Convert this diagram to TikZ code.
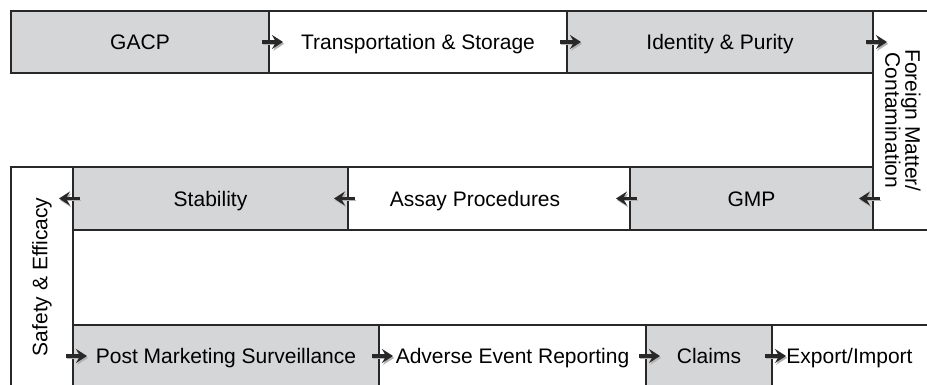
\documentclass[tikz,border=0pt]{standalone}
\usepackage{fontspec}
\setmainfont{Liberation Sans}
\usetikzlibrary{calc,arrows.meta}
\definecolor{boxgray}{RGB}{213,214,216}
\definecolor{edge}{RGB}{40,40,40}
\begin{document}
\begin{tikzpicture}[x=1pt,y=-1pt,
  plain/.style={inner sep=0pt,outer sep=0pt,align=center,font=\fontsize{21}{23}\selectfont},
  cell/.style={plain,draw=edge,line width=2pt,text height=15pt,text depth=0pt},
  shaded/.style={cell,fill=boxgray},
  bare/.style={plain,text height=15pt,text depth=0pt},
  rule/.style={draw=edge,line width=2pt},
  flow/.style={-{Stealth[length=11pt,width=14pt,inset=4pt]},line width=3.2pt,draw=edge,
    preaction={draw=black!30,transform canvas={shift={(1.2pt,-1.8pt)}}}}
]
\clip (0,0) rectangle (927,384);
\fill[white] (0,0) rectangle (927,384);
% top row
\node[shaded,minimum width=258pt,minimum height=62pt] (gacp) at (140,42) {GACP};
\node[cell,minimum width=298pt,minimum height=62pt] (trans) at (418,42) {Transportation \& Storage};
\node[shaded,minimum width=306pt,minimum height=62pt] (ident) at (720,42) {Identity \& Purity};
\node[plain,minimum width=54pt,minimum height=219pt] (foreign) at (900,120.5)
  {\rotatebox{-90}{\begin{tabular}{@{}c@{}}Foreign Matter/\\[-3pt]Contamination\end{tabular}}};
\draw[rule] ($(foreign.north east)+(10,0)$) -- (foreign.north west) -- (foreign.south west) -- ($(foreign.south east)+(10,0)$);
% middle row
\node[plain,draw=edge,line width=2pt,minimum width=62pt,minimum height=220pt] (safety) at (42,277)
  {\rotatebox{90}{Safety \& Efficacy}};
\node[shaded,minimum width=275pt,minimum height=63pt] (stab) at (210.5,198.5) {Stability};
\node[cell,minimum width=282pt,minimum height=63pt] (assay) at (489,198.5) {Assay Procedures\hspace*{28pt}};
\node[shaded,minimum width=243pt,minimum height=63pt] (gmp) at (751.5,198.5) {GMP};
% bottom row
\node[shaded,minimum width=306pt,minimum height=62pt] (pms) at (226,356) {Post Marketing Surveillance};
\node[cell,minimum width=267pt,minimum height=62pt] (adv) at (512.5,356) {Adverse Event Reporting};
\node[shaded,minimum width=126pt,minimum height=62pt] (claims) at (709,356) {Claims};
\node[bare,minimum width=155pt,minimum height=62pt] (export) at (849.5,356) {Export/Import};
\draw[rule] (export.south west) -- (export.north west) -- ($(export.north east)+(10,0)$);
% arrows
\draw[flow] ($(gacp.east)+(-7,0)$) -- ($(trans.west)+(14,0)$);
\draw[flow] ($(trans.east)+(-7,0)$) -- ($(ident.west)+(14,0)$);
\draw[flow] ($(ident.east)+(-7,0)$) -- ($(foreign.west|-ident.east)+(14,0)$);
\draw[flow] ($(foreign.west|-gmp.east)+(7,0)$) -- ($(gmp.east)+(-14,0)$);
\draw[flow] ($(gmp.west)+(7,0)$) -- ($(assay.east)+(-14,0)$);
\draw[flow] ($(assay.west)+(7,0)$) -- ($(stab.east)+(-14,0)$);
\draw[flow] ($(stab.west)+(7,0)$) -- ($(safety.east|-stab.west)+(-14,0)$);
\draw[flow] ($(safety.east|-pms.west)+(-7,0)$) -- ($(pms.west)+(14,0)$);
\draw[flow] ($(pms.east)+(-7,0)$) -- ($(adv.west)+(14,0)$);
\draw[flow] ($(adv.east)+(-7,0)$) -- ($(claims.west)+(14,0)$);
\draw[flow] ($(claims.east)+(-7,0)$) -- ($(export.west)+(14,0)$);
\end{tikzpicture}
\end{document}
